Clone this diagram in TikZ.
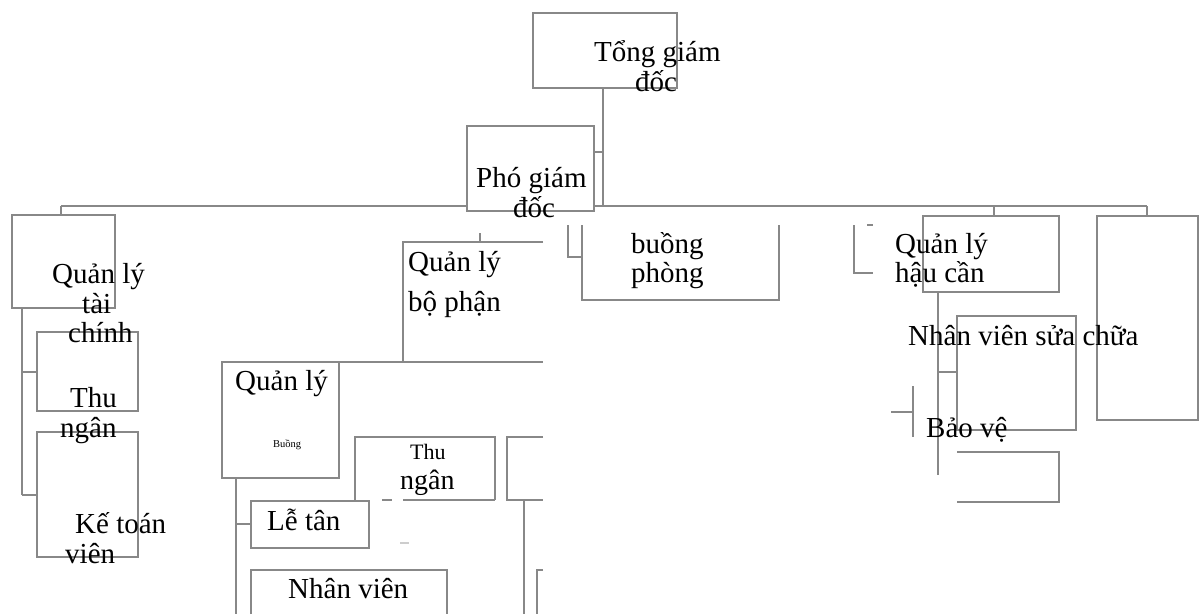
\documentclass[tikz,border=0pt]{standalone}
\usepackage{fontspec}
\setmainfont{Liberation Serif}
\definecolor{rule}{RGB}{136,136,136}
\definecolor{faint}{RGB}{205,205,205}
\tikzset{
  ln/.style={draw=rule, line width=2.9pt},
  box/.style={ln, fill=white, rectangle, inner sep=0pt, outer sep=0pt, anchor=north west},
  lbl/.style={inner sep=0pt, anchor=base west, font=\fontsize{29}{29}\selectfont},
}
\begin{document}
\begin{tikzpicture}[x=1pt,y=-1pt]
\useasboundingbox (0,0) rectangle (1204,614);

% main horizontal bus
\draw[ln] (61,206) -- (1147,206);

% top level
\node[box, minimum width=144pt, minimum height=75pt] (tgd) at (533,13) {};
\draw[ln] (603,88) -- (603,206);
\draw[ln] (594,152) -- (603,152);
\node[box, minimum width=127pt, minimum height=85pt] (pgd) at (467,126) {};

% finance column
\draw[ln] (61,206) -- (61,215);
\node[box, minimum width=103pt, minimum height=93pt] (qltc) at (12,215) {};
\draw[ln] (22,308) -- (22,495);
\draw[ln] (22,372) -- (37,372);
\draw[ln] (22,495) -- (37,495);
\node[box, minimum width=101pt, minimum height=79pt] (tn1) at (37,332) {};
\node[box, minimum width=101pt, minimum height=125pt] (ktv) at (37,432) {};

% department column
\draw[ln] (480,233) -- (480,242);
\draw[ln] (543,242) -- (403,242) -- (403,362) -- (543,362);
\draw[ln] (339,362) -- (403,362);
\node[box, minimum width=117pt, minimum height=116pt] (qlb) at (222,362) {};
\draw[ln] (236,478) -- (236,614);
\draw[ln] (236,524) -- (251,524);
\draw[ln] (355,500) -- (355,437) -- (495,437) -- (495,500);
\draw[ln] (403,500) -- (495,500);
\draw[ln] (382,500) -- (392,500);
\draw[ln] (543,437) -- (507,437) -- (507,500) -- (543,500);
\draw[ln] (524,500) -- (524,614);
\draw[ln] (543,570) -- (537,570) -- (537,614);
\node[box, minimum width=118pt, minimum height=47pt] (lt) at (251,501) {};
\draw[ln] (251,614) -- (251,570) -- (447,570) -- (447,614);
\draw[draw=faint, line width=2.9pt] (400,543) -- (409,543);

% housekeeping
\draw[ln] (568,225) -- (568,257) -- (582,257);
\draw[ln] (582,225) -- (582,300) -- (779,300) -- (779,225);

% logistics
\draw[ln] (994,206) -- (994,216);
\draw[ln] (1147,206) -- (1147,216);
\draw[ln] (867,225) -- (873,225);
\draw[ln] (854,225) -- (854,273) -- (873,273);
\node[box, minimum width=136pt, minimum height=76pt] (hc) at (923,216) {};
\node[box, minimum width=101pt, minimum height=204pt] (tall) at (1097,216) {};
\draw[ln] (938,292) -- (938,475);
\draw[ln] (938,372) -- (957,372);
\node[box, minimum width=119pt, minimum height=114pt] (nvsc) at (957,316) {};
\draw[ln] (913,386) -- (913,437);
\draw[ln] (891,412) -- (913,412);
\draw[ln] (957,452) -- (1059,452) -- (1059,502) -- (957,502);

% labels
\node[lbl] (t1) at (594,61) {Tổng giám};
\node[lbl] (t2) at (635,91) {đốc};
\node[lbl] (p1) at (476,187) {Phó giám};
\node[lbl] (p2) at (513,217) {đốc};
\node[lbl] (f1) at (52,283) {Quản lý};
\node[lbl] (f2) at (82,313) {tài};
\node[lbl] (f3) at (68,342) {chính};
\node[lbl] (c1) at (70,407) {Thu};
\node[lbl] (c2) at (60,437) {ngân};
\node[lbl] (k1) at (75,533) {Kế toán};
\node[lbl] (k2) at (65,563) {viên};
\node[lbl] (d1) at (408,271) {Quản lý};
\node[lbl] (d2) at (408,311) {bộ phận};
\node[lbl] (q1) at (235,390) {Quản lý};
\node[inner sep=0pt, anchor=base, font=\fontsize{10.5}{10.5}\selectfont] (q2) at (287,447) {Buồng};
\node[lbl, font=\fontsize{22}{22}\selectfont] (m1) at (410,459) {Thu};
\node[lbl, font=\fontsize{28}{28}\selectfont] (m2) at (400,489) {ngân};
\node[lbl] (l1) at (267,530) {Lễ tân};
\node[lbl] (n1) at (288,598) {Nhân viên};
\node[lbl] (b1) at (631,253) {buồng};
\node[lbl] (b2) at (631,282) {phòng};
\node[lbl] (h1) at (895,253) {Quản lý};
\node[lbl] (h2) at (895,282) {hậu cần};
\node[lbl] (r1) at (908,345) {Nhân viên sửa chữa};
\node[lbl] (v1) at (926,437) {Bảo vệ};
\end{tikzpicture}
\end{document}
